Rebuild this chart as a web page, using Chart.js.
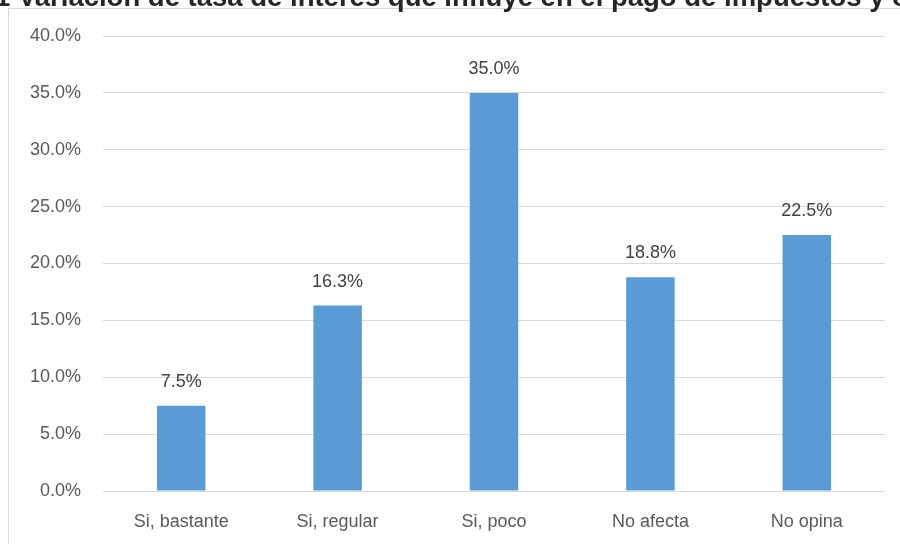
<!DOCTYPE html>
<html>
<head>
<meta charset="utf-8">
<script src="https://cdn.jsdelivr.net/npm/chart.js@4/dist/chart.umd.min.js"></script>
<style>
body{margin:0;background:#fff;overflow:hidden;}
#marco{position:absolute;left:8px;top:8px;width:1000px;height:1000px;border:1px solid #d9d9d9;}
#lienzo{position:absolute;left:0;top:0;width:900px;height:544px;}
</style>
</head>
<body>
<div id="marco"></div>
<div id="lienzo"><canvas id="grafico" width="900" height="544"></canvas></div>
<script>
const titulo = "1 Variación de tasa de interés que influye en el pago de impuestos y obligaciones";
const categorias = ["Si, bastante", "Si, regular", "Si, poco", "No afecta", "No opina"];
const porcentajes = [7.5, 16.3, 35.0, 18.8, 22.5];
const ticksY = [0, 5, 10, 15, 20, 25, 30, 35, 40];

const fuente = "'Liberation Sans', Arial, sans-serif";

/* titulo recortado arriba */
const pluginTitulo = {
  id: "pluginTitulo",
  afterDraw(chart){
    const ctx = chart.ctx;
    ctx.save();
    ctx.font = "bold 27.5px " + fuente;
    ctx.fillStyle = "#262626";
    ctx.textAlign = "left";
    ctx.textBaseline = "alphabetic";
    ctx.fillText(titulo, -5, 6);
    ctx.restore();
  }
};

/* etiquetas de valor */
const pluginEtiquetas = {
  id: "pluginEtiquetas",
  afterDatasetsDraw(chart){
    const ctx = chart.ctx;
    const meta = chart.getDatasetMeta(0);
    ctx.save();
    ctx.font = "18px " + fuente;
    ctx.fillStyle = "#404040";
    ctx.textAlign = "center";
    ctx.textBaseline = "middle";
    meta.data.forEach((barra, i) => {
      ctx.fillText(porcentajes[i].toFixed(1) + "%", barra.x, barra.y - 24);
    });
    ctx.restore();
  }
};

new Chart(document.getElementById("grafico"), {
  type: "bar",
  data: {
    labels: categorias,
    datasets: [{
      data: porcentajes,
      backgroundColor: "#5b9bd5",
      borderWidth: 0,
      categoryPercentage: 1,
      barPercentage: 0.31
    }]
  },
  options: {
    responsive: false,
    animation: false,
    layout: {padding: {left: 0, right: 15, top: 36, bottom: 0}},
    plugins: {legend: {display: false}, tooltip: {enabled: false}},
    scales: {
      x: {
        grid: {display: false},
        border: {display: false},
        ticks: {color: "#595959", font: {family: fuente, size: 18}, padding: 12, maxRotation: 0},
        afterFit(s){ s.height = 53; }
      },
      y: {
        min: 0,
        max: 40,
        afterBuildTicks(s){ s.ticks = ticksY.map(v => ({value: v})); },
        grid: {color: "#d9d9d9", lineWidth: 1, drawTicks: false},
        border: {display: false},
        ticks: {
          color: "#595959",
          font: {family: fuente, size: 18},
          padding: 22,
          callback: v => v.toFixed(1) + "%"
        },
        afterFit(s){ s.width = 103; }
      }
    }
  },
  plugins: [pluginTitulo, pluginEtiquetas]
});
</script>
</body>
</html>
